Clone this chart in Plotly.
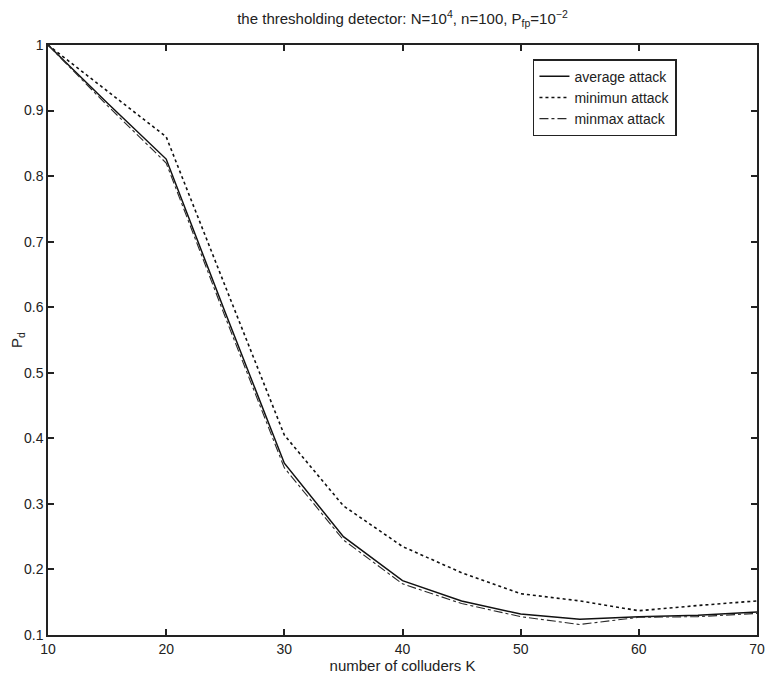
import plotly.graph_objects as go

# number of colluders K
k_values = [10, 15, 20, 25, 30, 35, 40, 45, 50, 55, 60, 65, 70]

# detection probability for each attack
pd_average = [1.0, 0.912, 0.826, 0.592, 0.362, 0.250, 0.183, 0.152, 0.132, 0.124, 0.128, 0.130, 0.135]
pd_minimum = [1.0, 0.930, 0.860, 0.632, 0.405, 0.297, 0.235, 0.195, 0.163, 0.152, 0.137, 0.145, 0.152]
pd_minmax = [1.0, 0.908, 0.820, 0.585, 0.355, 0.245, 0.178, 0.148, 0.128, 0.116, 0.127, 0.128, 0.133]

font_family = "Liberation Sans, Arial, sans-serif"
ink = "#222222"

fig = go.Figure()
fig.add_trace(go.Scatter(x=k_values, y=pd_average, mode="lines", name="average attack",
                         line=dict(color="#111111", width=1.5, dash="solid")))
fig.add_trace(go.Scatter(x=k_values, y=pd_minimum, mode="lines", name="minimun attack",
                         line=dict(color="#111111", width=1.6, dash="dot")))
fig.add_trace(go.Scatter(x=k_values, y=pd_minmax, mode="lines", name="minmax attack",
                         line=dict(color="#2a2a2a", width=1.1, dash="dashdot")))

axis_style = dict(
    showline=True, linecolor=ink, linewidth=1.5, mirror="ticks",
    ticks="inside", ticklen=6, tickwidth=1.5, tickcolor=ink,
    showgrid=False, zeroline=False, automargin=False,
    tickfont=dict(family=font_family, size=14, color=ink),
)

fig.update_xaxes(range=[10, 70], dtick=10, tick0=10,
                 title=dict(text="number of colluders K", standoff=0,
                            font=dict(family=font_family, size=15, color=ink)),
                 **axis_style)
fig.update_yaxes(range=[0.1, 1], dtick=0.1, tick0=0.1,
                 title=dict(text="P<sub>d</sub>", standoff=0,
                            font=dict(family=font_family, size=15, color=ink)),
                 **axis_style)

# page body adds an 8px offset, so margins are shifted to compensate
fig.update_layout(
    width=778, height=677,
    margin=dict(l=40, r=29, t=37, b=50),
    paper_bgcolor="white", plot_bgcolor="white",
    font=dict(family=font_family, size=15, color=ink),
    title=dict(text="the thresholding detector: N=10<sup>4</sup>, n=100, P<sub>fp</sub>=10<sup>−2</sup>",
               x=0.5, xref="paper", xanchor="center", y=0.984, yref="container", yanchor="middle",
               font=dict(family=font_family, size=15, color=ink)),
    legend=dict(x=0.684, y=0.976, xanchor="left", yanchor="top",
                bordercolor=ink, borderwidth=1.5, bgcolor="white",
                font=dict(family=font_family, size=14, color=ink),
                itemwidth=30, tracegroupgap=0),
    showlegend=True,
)

fig.write_html("out.html")
